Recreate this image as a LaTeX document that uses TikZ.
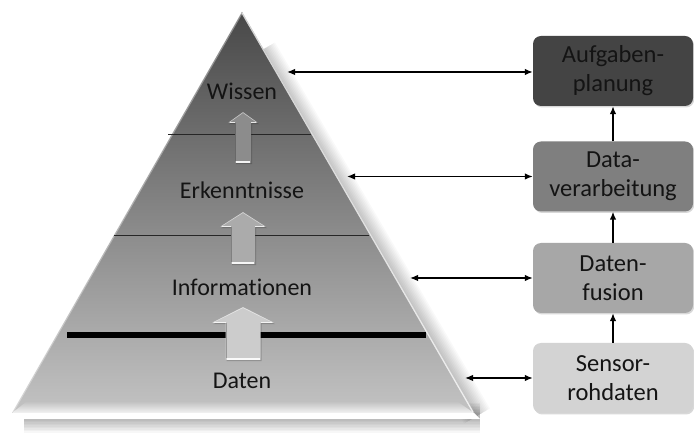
\documentclass[tikz,border=0pt]{standalone}
\usepackage{fontspec}
\setmainfont{Carlito}[Ligatures=NoCommon]
\usetikzlibrary{arrows.meta,shadows}

\definecolor{pyrtop}{HTML}{484848}
\definecolor{pyrbot}{HTML}{C3C3C3}
\definecolor{boxA}{HTML}{444444}
\definecolor{boxB}{HTML}{7F7F7F}
\definecolor{boxC}{HTML}{A7A7A7}
\definecolor{boxD}{HTML}{D3D3D3}
\definecolor{inktext}{HTML}{141414}

% hollow up arrow: #1 centre x, #2 tip y, #3 head base y, #4 shaft base y,
% #5 head half width, #6 shaft half width, #7 fill colour
\newcommand{\blockup}[7]{%
  \fill[black,opacity=0.18,xshift=1.2pt,yshift=-1.2pt]
    ({#1-#6},#4) -- ({#1-#6},#3) -- ({#1-#5},#3) -- (#1,#2) -- ({#1+#5},#3)
    -- ({#1+#6},#3) -- ({#1+#6},#4) -- cycle;
  \fill[#7]
    ({#1-#6},#4) -- ({#1-#6},#3) -- ({#1-#5},#3) -- (#1,#2) -- ({#1+#5},#3)
    -- ({#1+#6},#3) -- ({#1+#6},#4) -- cycle;
  \draw[white,line width=1.6pt,opacity=0.9] ({#1-#6+1},{#4-1}) -- ({#1+#6-1},{#4-1});
  \draw[white,line width=1.2pt,opacity=0.8] ({#1-#5+2},{#3-0.6}) -- ({#1-#6},{#3-0.6});
  \draw[white,line width=1.2pt,opacity=0.8] ({#1+#6},{#3-0.6}) -- ({#1+#5-2},{#3-0.6});
  \draw[black,line width=0.8pt,opacity=0.25] ({#1-#6+0.4},{#3}) -- ({#1-#6+0.4},{#4-2});
  \draw[white,line width=0.6pt,opacity=0.5] ({#1-#5+1},{#3-0.5}) -- (#1,{#2+0.6}) -- ({#1+#5-1},{#3-0.5});
}

\tikzset{
  layer/.style={font=\fontsize{24}{29}\selectfont, text=inktext, anchor=base},
  stage/.style={rounded corners=8pt, minimum width=160pt, minimum height=70pt,
    align=center, font=\fontsize{24.5}{29}\selectfont, text=inktext,
    drop shadow={opacity=0.3, shadow xshift=1.2pt, shadow yshift=-1.5pt}},
  link/.style={line width=1.4pt, {Latex[length=8pt,width=6.5pt]}-{Latex[length=8pt,width=6.5pt]}},
  flow/.style={line width=1.4pt, -{Latex[length=8pt,width=6.5pt]}},
  thinrule/.style={line width=0.8pt, black!85},
}

\begin{document}
\begin{tikzpicture}[x=1pt,y=-1pt]
\useasboundingbox (0,0) rectangle (694,435);
\fill[white] (0,0) rectangle (694,435);

% soft shadow along the right flank and beneath the base
\foreach \w in {3,6,...,30}{
  \draw[black,opacity=0.025,line width=\w pt] (262,50) -- (477,416);
  \draw[black,opacity=0.03,line width=\w pt] (24,418) -- (480,418);
}

% pyramid body
\fill[white] (12,413) -- (474,413) -- (480,419) -- (12,419) -- cycle;
\shade[top color=pyrtop, bottom color=pyrbot] (242,12) -- (474,413) -- (12,413) -- cycle;
% bevel along the base
\shade[top color=pyrbot, bottom color=white!80!pyrbot]
  (26,402) -- (458,402) -- (474,413) -- (12,413) -- cycle;
\draw[white,opacity=0.75,line width=1.3pt] (242,13) -- (473,412);
\draw[white,opacity=0.35,line width=1.5pt] (242,13) -- (13,412);

% layer boundaries
\draw[thinrule] (168,134) -- (311,134);
\draw[thinrule] (114,235) -- (369,235);
\draw[line width=6pt] (67,335) -- (426,335);

% layer names
\node[layer] (wissen) at (242,100) {Wissen};
\node[layer] (erk) at (242,199) {Erkenntnisse};
\node[layer] (info) at (242,296) {Informationen};
\node[layer] (daten) at (242,389) {Daten};

% upward block arrows between layers
\blockup{243}{112}{123}{163}{15}{8}{black!45!white}
\blockup{243}{212}{227}{264}{23}{12}{black!33!white}
\blockup{243}{307}{323}{360}{31}{17.5}{black!20!white}

% processing stages
\node[stage, fill=boxA] (plan) at (613,71) {Aufgaben-\\planung};
\node[stage, fill=boxB] (verarb) at (613,176.5) {Data-\\verarbeitung};
\node[stage, fill=boxC] (fusion) at (613,278) {Daten-\\fusion};
\node[stage, fill=boxD] (sensor) at (613,378) {Sensor-\\rohdaten};

% chain of stages
\draw[flow] (sensor.north) -- (fusion.south);
\draw[flow] (fusion.north) -- (verarb.south);
\draw[flow] (verarb.north) -- (plan.south);

% links between layers and stages
\coordinate (eW) at (287,72);
\coordinate (eE) at (347,176.5);
\coordinate (eI) at (410,278);
\coordinate (eD) at (465,378);
\draw[link] (eW) -- (eW -| plan.west);
\draw[link] (eE) -- (eE -| verarb.west);
\draw[link] (eI) -- (eI -| fusion.west);
\draw[link] (eD) -- (eD -| sensor.west);
\end{tikzpicture}
\end{document}
